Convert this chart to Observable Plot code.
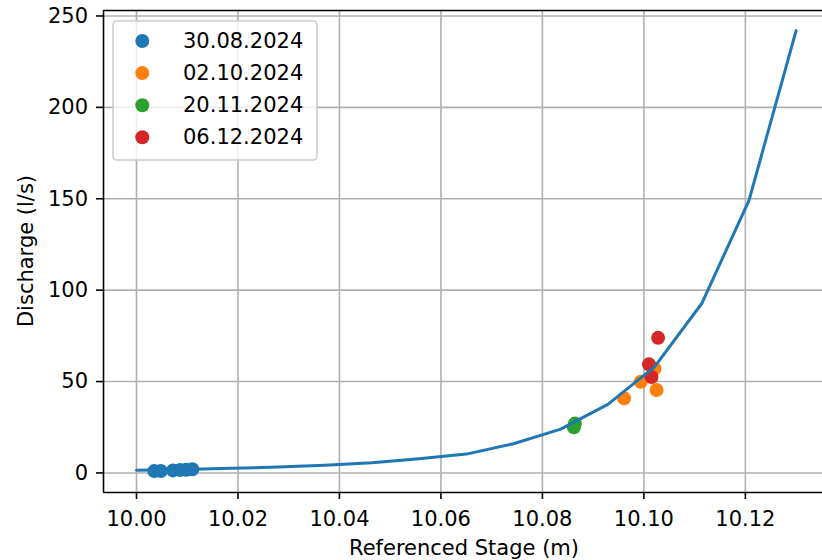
<!DOCTYPE html>
<html>
<head>
<meta charset="utf-8">
<script src="https://cdn.jsdelivr.net/npm/d3@7"></script>
<script src="https://cdn.jsdelivr.net/npm/@observablehq/plot@0.6"></script>
<style>
  html, body { margin: 0; padding: 0; background: #fff; }
  #chart { width: 822px; height: 560px; }
</style>
</head>
<body>
<div id="chart"></div>
<script>
// ---- data ----
const curveStage = [10.0000, 10.0093, 10.0186, 10.0279, 10.0371, 10.0464, 10.0557, 10.0650, 10.0743, 10.0836, 10.0929, 10.1021, 10.1114, 10.1207, 10.1300];
const curveQ     = [1.5, 1.9, 2.5, 3.2, 4.2, 5.6, 7.8, 10.3, 16.0, 24.0, 37.5, 58.0, 92.7, 149.0, 242.0];

const dates = ["30.08.2024", "02.10.2024", "20.11.2024", "06.12.2024"];
const colors = ["#1f77b4", "#ff7f0e", "#2ca02c", "#d62728"];

const stage30082024 = [10.0035, 10.0048, 10.0072, 10.0086, 10.0098, 10.0110];
const q30082024     = [1.0, 1.1, 1.4, 1.6, 1.7, 2.0];
const stage02102024 = [10.0961, 10.0994, 10.1021, 10.1025];
const q02102024     = [40.8, 49.9, 57.0, 45.4];
const stage20112024 = [10.0862, 10.0864];
const q20112024     = [25.0, 27.0];
const stage06122024 = [10.1028, 10.1010, 10.1015];
const q06122024     = [73.9, 59.4, 52.5];

const xTicks = [10.00, 10.02, 10.04, 10.06, 10.08, 10.10, 10.12];
const yTicks = [0, 50, 100, 150, 200, 250];
const xLimits = [9.9935, 10.1352];
const yLimits = [-10.7, 253];

const xLabel = "Referenced Stage (m)";
const yLabel = "Discharge (l/s)";

// ---- build tables ----
const curve = curveStage.map((s, i) => ({stage: s, q: curveQ[i]}));
const seriesStages = [stage30082024, stage02102024, stage20112024, stage06122024];
const seriesQs = [q30082024, q02102024, q20112024, q06122024];
const points = [];
dates.forEach((d, k) => {
  seriesStages[k].forEach((s, i) => points.push({date: d, stage: s, q: seriesQs[k][i]}));
});

const FONT = "'DejaVu Sans', sans-serif";
const FS = 21;

const chart = Plot.plot({
  width: 822,
  height: 560,
  marginLeft: 103,
  marginRight: 0,
  marginTop: 10,
  marginBottom: 68,
  style: {fontFamily: FONT, fontSize: FS + "px", background: "#fff", color: "black"},
  x: {domain: xLimits, label: null},
  y: {domain: yLimits, label: null},
  color: {domain: dates, range: colors},
  marks: [
    Plot.gridX(xTicks, {stroke: "#b0b0b0", strokeOpacity: 1, strokeWidth: 1.6}),
    Plot.gridY(yTicks, {stroke: "#b0b0b0", strokeOpacity: 1, strokeWidth: 1.6}),
    Plot.ruleX([xLimits[0]], {stroke: "black", strokeWidth: 1.6}),
    Plot.ruleY([yLimits[0], yLimits[1]], {stroke: "black", strokeWidth: 1.6}),
    Plot.axisX({ticks: xTicks, tickFormat: d => d.toFixed(2), tickSize: 7, tickPadding: 11.5, fontSize: FS, label: null, strokeWidth: 1.6}),
    Plot.axisY({ticks: yTicks, tickFormat: d => String(d), tickSize: 7, tickPadding: 8.5, fontSize: FS, label: null, strokeWidth: 1.6}),
    Plot.dot(points, {x: "stage", y: "q", fill: "date", r: 7, stroke: "none"}),
    Plot.line(curve, {x: "stage", y: "q", stroke: colors[0], strokeWidth: 3})
  ]
});

document.getElementById("chart").appendChild(chart);

// ---- axis labels and legend overlay ----
const svg = d3.select(chart);
svg.append("text")
  .attr("x", 464).attr("y", 548)
  .attr("text-anchor", "middle").attr("dominant-baseline", "central")
  .style("font-family", FONT).style("font-size", FS + "px").attr("fill", "black")
  .text(xLabel);
svg.append("text")
  .attr("transform", "translate(26,251) rotate(-90)")
  .attr("text-anchor", "middle").attr("dominant-baseline", "central")
  .style("font-family", FONT).style("font-size", FS + "px").attr("fill", "black")
  .text(yLabel);

const lg = svg.append("g");
lg.append("rect")
  .attr("x", 113).attr("y", 21).attr("width", 204).attr("height", 139).attr("rx", 4)
  .attr("fill", "white").attr("fill-opacity", 0.8)
  .attr("stroke", "#cccccc").attr("stroke-width", 1.6);
dates.forEach((d, i) => {
  const cy = 41 + i * 32.1;
  lg.append("circle").attr("cx", 142.3).attr("cy", cy).attr("r", 7).attr("fill", colors[i]);
  lg.append("text").attr("x", 183).attr("y", cy)
    .attr("text-anchor", "start").attr("dominant-baseline", "central")
    .style("font-family", FONT).style("font-size", FS + "px").attr("fill", "black")
    .text(d);
});
</script>
</body>
</html>
